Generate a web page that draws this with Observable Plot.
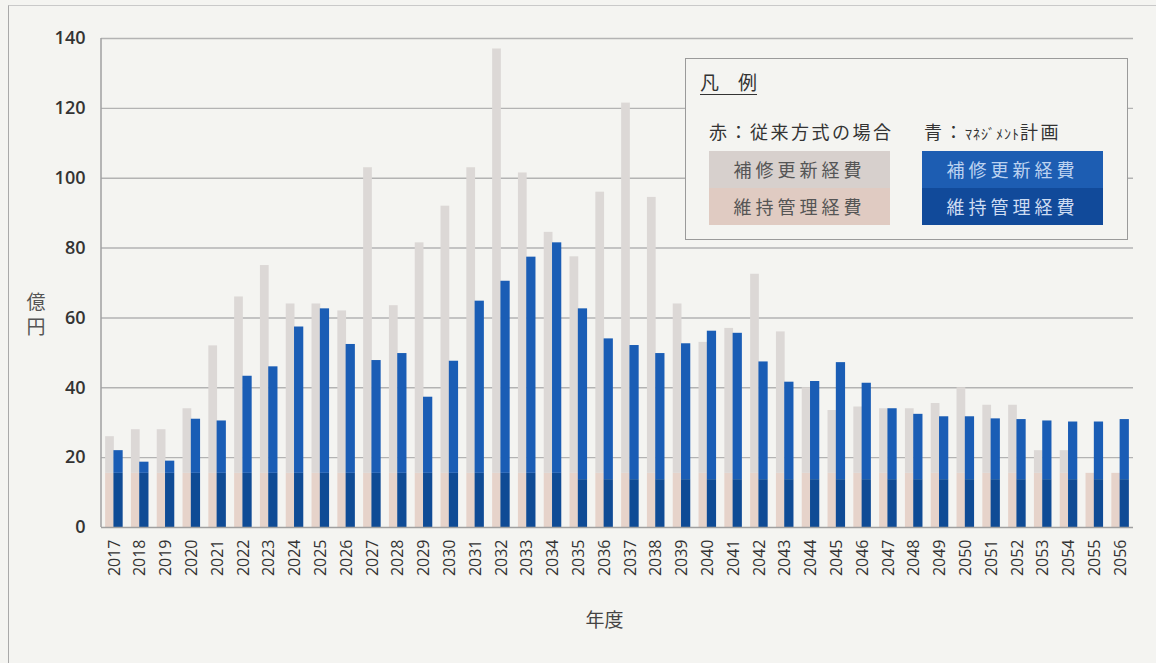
<!DOCTYPE html>
<html>
<head>
<meta charset="utf-8">
<script src="https://cdn.jsdelivr.net/npm/d3@7"></script>
<script src="https://cdn.jsdelivr.net/npm/@observablehq/plot@0.6"></script>
<style>
  html, body { margin: 0; padding: 0; background: #f4f4f1; }
  #wrap { position: relative; width: 1156px; height: 663px; overflow: hidden; }
  #border { position: absolute; left: 8px; top: 5px; width: 1160px; height: 680px; border-left: 1.5px solid #a9a9a9; border-top: 1.5px solid #c9c9c9; box-sizing: border-box; }
  #legend { position: absolute; left: 685px; top: 58px; width: 443px; height: 182px; box-sizing: border-box;
            border: 1.5px solid #9a9a9a; background: #f4f4f1; font-family: "Noto Sans CJK JP", sans-serif; }
  #legend .title { position: absolute; left: 14px; top: 9px; font-size: 19px; color: #333; text-decoration: underline; text-underline-offset: 4px; }
  #legend .cap { position: absolute; top: 59px; font-size: 18px; color: #333; white-space: nowrap; letter-spacing: 2.5px; }
  #legend .sw { position: absolute; width: 181px; height: 37px; line-height: 37px; text-align: center; font-size: 18px; letter-spacing: 4px; }
  svg text { font-family: "Open Sans", "Noto Sans CJK JP", sans-serif; }
</style>
</head>
<body>
<div id="wrap">
  <div id="border"></div>
  <div id="chart"></div>
  <div id="legend"></div>
</div>
<script>
// ---- data ----
const years = ["2017","2018","2019","2020","2021","2022","2023","2024","2025","2026",
               "2027","2028","2029","2030","2031","2032","2033","2034","2035","2036",
               "2037","2038","2039","2040","2041","2042","2043","2044","2045","2046",
               "2047","2048","2049","2050","2051","2052","2053","2054","2055","2056"];

// 赤：従来方式の場合
const convMaintenance = [15.5,15.5,15.5,15.5,15.5,15.5,15.5,15.5,15.5,15.5,
                         15.5,15.5,15.5,15.5,15.5,15.5,15.5,15.5,15.5,15.5,
                         15.5,15.5,15.5,15.5,15.5,15.5,15.5,15.5,15.5,15.5,
                         15.5,15.5,15.5,15.5,15.5,15.5,15.5,15.5,15.5,15.5];
const convRenewal = [10.5,12.5,12.5,18.5,36.5,50.5,59.5,48.5,48.5,46.5,
                     87.5,48,66,76.5,87.5,121.5,86,69,62,80.5,
                     106,79,48.5,37.5,41.5,57,40.5,24.5,18,19,
                     18.5,18.5,20,24.5,19.5,19.5,6.5,6.5,0,0];

// 青：マネジメント計画
const planMaintenance = [15.5,15.5,15.5,15.5,15.5,15.5,15.5,15.5,15.5,15.5,
                         15.5,15.5,15.5,15.5,15.5,15.5,15.5,15.5,13.7,13.7,
                         13.7,13.7,13.7,13.7,13.7,13.7,13.7,13.7,13.7,13.7,
                         13.7,13.7,13.7,13.7,13.7,13.7,13.7,13.7,13.7,13.7];
const planRenewal = [6.5,3.2,3.5,15.5,15,27.8,30.5,41.9,47.1,36.9,
                     32.3,34.3,21.8,32.1,49.3,55,61.9,66,48.9,40.3,
                     38.4,36.1,38.9,42.5,41.9,33.7,27.9,28.1,33.5,27.6,
                     20.3,18.7,18,18,17.4,17.2,16.8,16.5,16.5,17.2];

const yTicks = [0,20,40,60,80,100,120,140];
const partKeys = ["従来・維持管理経費","従来・補修更新経費","計画・維持管理経費","計画・補修更新経費"];
const partColors = ["#e6d3ca","#dcd8d6","#0f4b95","#1a5db5"];

// ---- tables ----
const convRows = years.flatMap((yr, i) => [
  {year: yr, part: partKeys[0], value: convMaintenance[i]},
  {year: yr, part: partKeys[1], value: convRenewal[i]}
]);
const planRows = years.flatMap((yr, i) => [
  {year: yr, part: partKeys[2], value: planMaintenance[i]},
  {year: yr, part: partKeys[3], value: planRenewal[i]}
]);

const chart = Plot.plot({
  width: 1156,
  height: 663,
  marginLeft: 101,
  marginRight: 23,
  marginTop: 38,
  marginBottom: 136,
  style: {background: "transparent", color: "#333", fontSize: "15px"},
  x: {type: "band", domain: years, paddingInner: 0.32, paddingOuter: 0.16, label: null,
      tickSize: 0, tickRotate: -90, tickPadding: 12},
  y: {domain: [0, 140], ticks: yTicks, label: null, tickSize: 0, tickPadding: 16},
  color: {domain: partKeys, range: partColors},
  marks: [
    Plot.ruleY(yTicks.slice(1), {stroke: "#b3b3b3", strokeWidth: 1.4}),
    Plot.barY(convRows, {x: "year", y: "value", fill: "part", insetLeft: 0, insetRight: 8.8}),
    Plot.barY(planRows, {x: "year", y: "value", fill: "part", insetLeft: 8.3, insetRight: 0}),
    Plot.ruleY([0], {stroke: "#a0a0a0", strokeWidth: 1.5}),
    Plot.text(["億\n円"], {text: d => d, frameAnchor: "left", dx: -75, dy: 30, fontSize: 19, fill: "#555", lineHeight: 1.32}),
    Plot.text(["年度"], {text: d => d, frameAnchor: "bottom", dx: -13, dy: 99, fontSize: 19, fill: "#444"})
  ]
});
document.getElementById("chart").appendChild(chart);

// y-axis line
const svg = d3.select(chart);
svg.append("line").attr("x1", 101).attr("x2", 101).attr("y1", 38).attr("y2", 527)
   .attr("stroke", "#a0a0a0").attr("stroke-width", 1.5);
svg.selectAll("[aria-label='y-axis'] text, [aria-label='y-axis tick label'] text")
   .style("font-size", "18px").style("font-weight", "600").style("fill", "#333");
svg.selectAll("[aria-label='x-axis'] text, [aria-label='x-axis tick label'] text")
   .style("font-size", "16px").style("fill", "#333");

// legend
const lg = document.getElementById("legend");
lg.innerHTML = `
  <div class="title">凡　例</div>
  <div class="cap" style="left:23px">赤：従来方式の場合</div>
  <div class="cap" style="left:238px">青：<span style="font-size:14px;letter-spacing:1px">ﾏﾈｼﾞﾒﾝﾄ</span>計画</div>
  <div class="sw" style="left:23px;top:92px;background:#d7d0cd;color:#555">補修更新経費</div>
  <div class="sw" style="left:23px;top:129px;background:#e0cbc2;color:#555">維持管理経費</div>
  <div class="sw" style="left:236px;top:92px;background:#1d5db2;color:#bcd2f0">補修更新経費</div>
  <div class="sw" style="left:236px;top:129px;background:#114a9a;color:#cddcf2">維持管理経費</div>
`;
</script>
</body>
</html>
